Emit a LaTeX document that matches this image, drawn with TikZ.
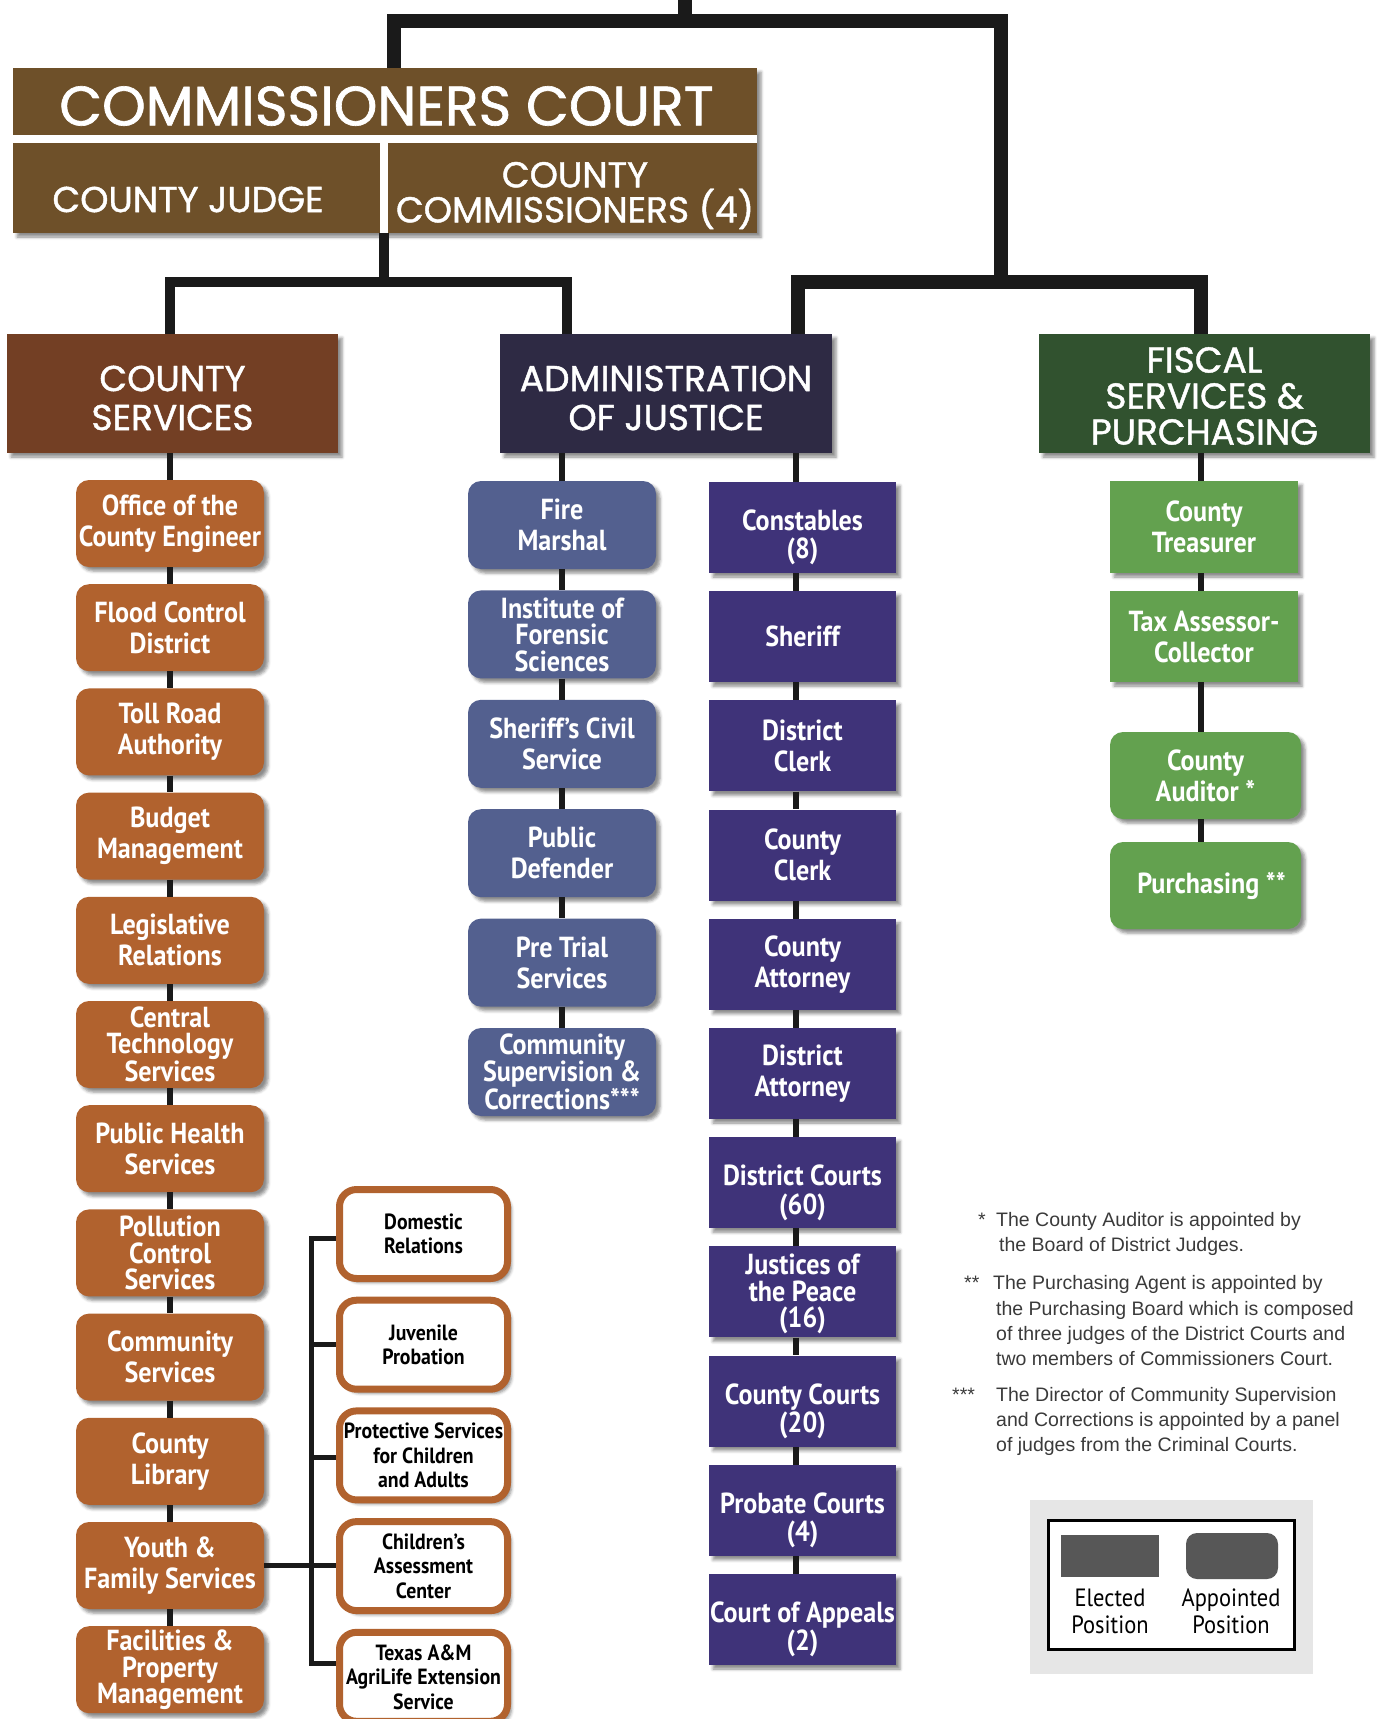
\documentclass[tikz,border=0pt]{standalone}
\usepackage{fontspec}
\setmainfont{Liberation Sans}
\newfontfamily\bfnt[FakeStretch=0.9]{PT Sans}
\newfontfamily\hfnt[FakeStretch=1.0,FakeBold=1.2]{Poppins}
\usetikzlibrary{shadows.blur}
\definecolor{ccbrown}{HTML}{6E5029}
\definecolor{csbrown}{HTML}{733F24}
\definecolor{ajnavy}{HTML}{2E2A44}
\definecolor{fsgreen}{HTML}{31522F}
\definecolor{orng}{HTML}{B1622E}
\definecolor{blu}{HTML}{53608F}
\definecolor{purp}{HTML}{3F3379}
\definecolor{grn}{HTML}{63A14F}
\definecolor{lnk}{HTML}{1A1A1A}
\definecolor{legdark}{HTML}{575757}
\definecolor{legbg}{HTML}{E6E6E6}
\definecolor{notegray}{HTML}{3A3A3A}
\tikzset{
  shad/.style={blur shadow={shadow xshift=4pt, shadow yshift=-4pt, shadow blur radius=3pt, shadow opacity=45}},
  lbl/.style={text=white, align=center, inner sep=0pt, font=\bfnt\bfseries\fontsize{29}{31}\selectfont},
  three/.style={font=\bfnt\bfseries\fontsize{29}{26.5}\selectfont},
  plbl/.style={lbl, yshift=-10pt, font=\bfnt\bfseries\fontsize{29}{28.5}\selectfont},
  obox/.style={shad, fill=orng, rounded corners=13pt, minimum width=188pt, minimum height=87pt, lbl},
  bbox/.style={shad, fill=blu, rounded corners=13pt, minimum width=188pt, minimum height=88pt, lbl},
  pbox/.style={shad, fill=purp, minimum width=187pt, minimum height=91pt, lbl},
  gbox/.style={shad, fill=grn, minimum width=188pt, minimum height=92pt, lbl},
  grbox/.style={shad, fill=grn, rounded corners=13pt, minimum width=191pt, minimum height=87pt, lbl},
  wbox/.style={shad, fill=white, draw=orng, line width=7pt, rounded corners=17pt, minimum width=168pt, minimum height=89pt, text=black, align=center, inner sep=0pt, font=\bfnt\bfseries\fontsize{22}{24.5}\selectfont},
  hdr/.style={shad, minimum height=119pt, inner sep=0pt},
  hlbl/.style={text=white, align=center, inner sep=0pt, yshift=-4.5pt, font=\hfnt\fontsize{36}{39}\selectfont},
  hdrtxt/.style={text=white, align=center, inner sep=0pt},
  c14/.style={draw=lnk, line width=14pt},
  c10/.style={draw=lnk, line width=10pt},
  c6/.style={draw=lnk, line width=6pt},
  c5/.style={draw=lnk, line width=5pt},
  note/.style={text=notegray, inner sep=0pt, anchor=base west, font=\fontsize{19.5}{25}\selectfont},
  legtxt/.style={text=black, align=center, inner sep=0pt, font=\bfnt\fontsize{25}{27}\selectfont}
}
\begin{document}
\begin{tikzpicture}[x=1pt, y=-1pt]
\clip (0,0) rectangle (1377,1719);
% Commissioners court group
\fill[white, shad] (13,68) rectangle (757,233);
\node[fill=ccbrown, minimum width=744pt, minimum height=67pt, inner sep=0pt] (cc) at (385,101.5) {};
\node[fill=ccbrown, minimum width=367pt, minimum height=90pt, inner sep=0pt] (judge) at (196.5,188) {};
\node[fill=ccbrown, minimum width=369pt, minimum height=90pt, inner sep=0pt] (comm) at (572.5,188) {};
\node[hdrtxt, font=\hfnt\fontsize{55.5}{55}\selectfont] (cct) at (386.5,106) {COMMISSIONERS COURT};
\node[hdrtxt, font=\hfnt\fontsize{36}{36}\selectfont] (judget) at (188,199.5) {COUNTY JUDGE};
\node[hdrtxt, font=\hfnt\fontsize{36}{35}\selectfont] (commt) at (575,195.5) {COUNTY\\COMMISSIONERS (4)};
% headers
\node[hdr, fill=csbrown, minimum width=331pt, label={[hlbl]center:{COUNTY\\SERVICES}}] (cs) at (172.5,393.5) {};
\node[hdr, fill=ajnavy, minimum width=332pt, label={[hlbl]center:{ADMINISTRATION\\OF JUSTICE}}] (aj) at (666,393.5) {};
\node[hdr, fill=fsgreen, minimum width=331pt, label={[hlbl, yshift=2pt, font=\hfnt\fontsize{36}{36}\selectfont]center:{FISCAL\\SERVICES \&\\PURCHASING}}] (fs) at (1204.5,393.5) {};
% top connectors
\coordinate (tb) at (685,0);
\coordinate (tl) at (394,20.5);
\coordinate (tr) at (1001,20.5);
\coordinate (rbl) at (798,282);
\coordinate (rbm) at (1001,282);
\coordinate (rbr) at (1201,282);
\coordinate (lj) at (384,233);
\coordinate (lbl) at (170,282);
\coordinate (lbr) at (567,282);
\draw[c14] (cc.north -| tl) -- (tl) -- (tr) -- (rbm);
\draw[c14] (tb) -- (tb |- tl);
\draw[c14] (aj.north -| rbl) -- (rbl) -- (rbr) -- (fs.north -| rbr);
\draw[c10] (lj) -- (lj |- lbl);
\draw[c10] (cs.north -| lbl) -- (lbl) -- (lbr) -- (aj.north -| lbr);
% orange column
\node[obox] (o1) at (170,523.5) {Office of the\\County Engineer};
\node[obox] (o2) at (170,627.7) {Flood Control\\District};
\node[obox] (o3) at (170,731.9) {Toll Road\\Authority};
\node[obox] (o4) at (170,836.1) {Budget\\Management};
\node[obox] (o5) at (170,940.3) {Legislative\\Relations};
\node[obox, three] (o6) at (170,1044.5) {Central\\Technology\\Services};
\node[obox] (o7) at (170,1148.7) {Public Health\\Services};
\node[obox, three] (o8) at (170,1252.9) {Pollution\\Control\\Services};
\node[obox] (o9) at (170,1357.1) {Community\\Services};
\node[obox] (o10) at (170,1461.3) {County\\Library};
\node[obox] (o11) at (170,1565.5) {Youth \&\\Family Services};
\node[obox, three] (o12) at (170,1669.7) {Facilities \&\\Property\\Management};
\draw[c6] (cs.south -| o1.north) -- (o1.north);
\foreach \i/\j in {1/2,2/3,3/4,4/5,5/6,6/7,7/8,8/9,9/10,10/11,11/12}
  \draw[c6] (o\i.south) -- (o\j.north);
% blue column
\node[bbox] (b1) at (562,525) {Fire\\Marshal};
\node[bbox, three] (b2) at (562,634.4) {Institute of\\Forensic\\Sciences};
\node[bbox] (b3) at (562,743.8) {Sheriff’s Civil\\Service};
\node[bbox] (b4) at (562,853.2) {Public\\Defender};
\node[bbox] (b5) at (562,962.6) {Pre Trial\\Services};
\node[bbox, three] (b6) at (562,1072) {Community\\Supervision \&\\Corrections***};
\draw[c6] (aj.south -| b1.north) -- (b1.north);
\foreach \i/\j in {1/2,2/3,3/4,4/5,5/6}
  \draw[c6] (b\i.south) -- (b\j.north);
% purple column
\node[pbox, label={[plbl]center:{Constables\\(8)}}] (p1) at (802.5,527.5) {};
\node[pbox] (p2) at (802.5,636.7) {Sheriff};
\node[pbox] (p3) at (802.5,745.9) {District\\Clerk};
\node[pbox] (p4) at (802.5,855.1) {County\\Clerk};
\node[pbox] (p5) at (802.5,964.3) {County\\Attorney};
\node[pbox] (p6) at (802.5,1073.5) {District\\Attorney};
\node[pbox, label={[plbl]center:{District Courts\\(60)}}] (p7) at (802.5,1182.7) {};
\node[pbox, label={[plbl, yshift=8pt, font=\bfnt\bfseries\fontsize{29}{26.5}\selectfont]center:{Justices of\\the Peace\\(16)}}] (p8) at (802.5,1291.9) {};
\node[pbox, label={[plbl]center:{County Courts\\(20)}}] (p9) at (802.5,1401.1) {};
\node[pbox, label={[plbl]center:{Probate Courts\\(4)}}] (p10) at (802.5,1510.3) {};
\node[pbox, label={[plbl]center:{Court of Appeals\\(2)}}] (p11) at (802.5,1619.5) {};
\coordinate (pl) at ([xshift=-6.5pt]p1.north);
\draw[c6] (aj.south -| pl) -- (pl);
\foreach \i/\j in {1/2,2/3,3/4,4/5,5/6,6/7,7/8,8/9,9/10,10/11}
  \draw[c6] ([xshift=-6.5pt]p\i.south) -- ([xshift=-6.5pt]p\j.north);
% green column
\node[gbox] (g1) at (1204,527) {County\\Treasurer};
\node[gbox, minimum height=91pt] (g2) at (1204,636.5) {Tax Assessor-\\Collector};
\node[grbox] (g3) at (1205.5,775.5) {County\\Auditor *};
\node[grbox] (g4) at (1205.5,885.5) {\hspace*{12pt}Purchasing **};
\coordinate (gl) at ([xshift=-3pt]g1.north);
\coordinate (g2s) at ([xshift=-3pt]g2.south);
\draw[c6] (fs.south -| gl) -- (gl);
\draw[c6] ([xshift=-3pt]g1.south) -- ([xshift=-3pt]g2.north);
\draw[c6] (g2s) -- (g2s |- g3.north);
\draw[c6] (g3.south -| g2s) -- (g4.north -| g2s);
% bracket and white boxes
\coordinate (brk) at (311.5,0);
\coordinate (w1t) at (336,1238);
\coordinate (w5t) at (336,1663);
\draw[c5] (w1t) -- (w1t -| brk) -- (w5t -| brk) -- (w5t);
\draw[c5] (o11.east) -- (340,1565.5);
\draw[c5] (311.5,1344.7) -- (340,1344.7);
\draw[c5] (311.5,1457) -- (340,1457);
\node[wbox] (w1) at (423.5,1234) {Domestic\\Relations};
\node[wbox] (w2) at (423.5,1344.7) {Juvenile\\Probation};
\node[wbox] (w3) at (423.5,1455.4) {Protective Services\\for Children\\and Adults};
\node[wbox] (w4) at (423.5,1566.1) {Children’s\\Assessment\\Center};
\node[wbox] (w5) at (423.5,1676.8) {Texas A\&M\\AgriLife Extension\\Service};
% notes
\node[note] (n1s) at (978,1226) {*};
\node[note] (n1a) at (996,1226) {The County Auditor is appointed by};
\node[note] (n1b) at (999,1251) {the Board of District Judges.};
\node[note] (n2s) at (964,1289) {**};
\node[note] (n2a) at (993,1289) {The Purchasing Agent is appointed by};
\node[note] (n2b) at (996,1315) {the Purchasing Board which is composed};
\node[note] (n2c) at (996,1340) {of three judges of the District Courts and};
\node[note] (n2d) at (996,1365) {two members of Commissioners Court.};
\node[note] (n3s) at (952,1401) {***};
\node[note] (n3a) at (996,1401) {The Director of Community Supervision};
\node[note] (n3b) at (996,1426) {and Corrections is appointed by a panel};
\node[note] (n3c) at (996,1451) {of judges from the Criminal Courts.};
% legend
\node[fill=legbg, minimum width=283pt, minimum height=174pt, inner sep=0pt] (legbg) at (1171.5,1587) {};
\node[draw=black, line width=3pt, fill=white, minimum width=246pt, minimum height=129pt, inner sep=0pt] (legbox) at (1171.5,1585) {};
\node[fill=legdark, minimum width=98pt, minimum height=42pt, inner sep=0pt] (el) at (1110,1556) {};
\node[fill=legdark, rounded corners=11pt, minimum width=92pt, minimum height=46pt, inner sep=0pt] (ap) at (1232,1556) {};
\node[legtxt] (elt) at (1110,1611.5) {Elected\\Position};
\node[legtxt] (apt) at (1231,1611.5) {Appointed\\Position};
\end{tikzpicture}
\end{document}
